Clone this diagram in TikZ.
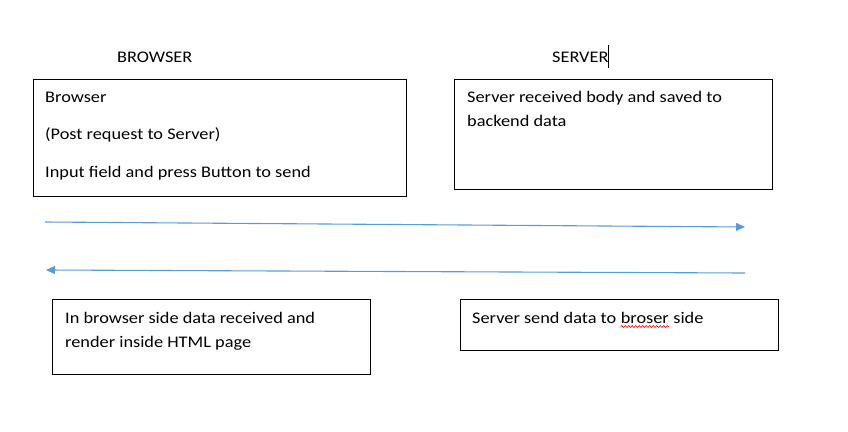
\documentclass[tikz,border=0pt]{standalone}
\usepackage{fontspec}
\setmainfont{Carlito}[FakeStretch=1.13]
\usepackage{xcolor}
\usetikzlibrary{arrows.meta, decorations.pathmorphing, positioning}
\definecolor{msgblue}{HTML}{5B9BD5}

\tikzset{
  box/.style={draw=black, line width=1pt, anchor=north west, inner sep=0pt},
  txt/.style={anchor=base west, inner sep=0pt, font=\fontsize{16.2}{19}\selectfont},
  msg/.style={msgblue, line width=1.1pt, -{Triangle[length=9pt,width=8pt]}},
}

\begin{document}
\begin{tikzpicture}[x=1pt,y=-1pt]
\useasboundingbox (0,0) rectangle (848,431);
\node[txt] (brwhead) at (117,62) {BROWSER};
\node[txt] (srvhead) at (552,62) {SERVER};
\draw[line width=0.9pt] (608,45) -- (608,68);
% boxes
\node[box, minimum width=373pt, minimum height=117pt] (brwbox) at (33,79) {};
\node[box, minimum width=318pt, minimum height=110pt] (srvbox) at (454,79) {};
\node[box, minimum width=318pt, minimum height=75pt] (rndbox) at (52,299) {};
\node[box, minimum width=318pt, minimum height=51pt] (sndbox) at (460,299) {};
\node[txt] (brw1) at (45,102) {Browser};
\node[txt] (brw2) at (45,139) {(Post request to Server)};
\node[txt] (brw3) at (45,177) {Input field and press Button to send};
\node[txt] (srv1) at (467,102) {Server received body and saved to};
\node[txt] (srv2) at (467,126) {backend data};
\node[txt] (rnd1) at (65,323) {In browser side data received and};
\node[txt] (rnd2) at (65,347) {render inside HTML page};
\node[txt] (snd1) at (472,323) {Server send data to\ \null};
\node[txt] (snd2) at (snd1.base east) {broser};
\node[txt] (snd3) at (snd2.base east) {\ side};
\draw[red, line width=0.6pt, decorate, decoration={snake, amplitude=1pt, segment length=3.5pt}] ([yshift=-3.5pt]snd2.base west) -- ([yshift=-3.5pt]snd2.base east);
% messages
\coordinate (reqfrom) at (45,222);
\coordinate (reqto) at (745,227);
\coordinate (resfrom) at (745,273);
\coordinate (resto) at (46,270);
\draw[msg] (reqfrom) -- (reqto);
\draw[msg] (resfrom) -- (resto);
\end{tikzpicture}
\end{document}
